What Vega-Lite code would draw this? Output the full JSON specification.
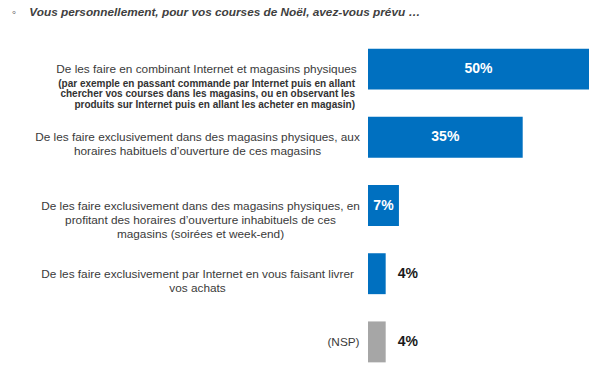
{
  "$schema": "https://vega.github.io/schema/vega-lite/v6.json",
  "width": 221,
  "height": 341,
  "autosize": {"type": "none"},
  "padding": {"left": 368, "top": 35, "right": 19, "bottom": 4},
  "background": "white",
  "config": {"view": {"stroke": null}, "font": "Liberation Sans"},
  "title": {
    "text": "◦\u00a0\u00a0\u00a0\u00a0Vous personnellement, pour vos courses de Noël, avez-vous prévu …",
    "anchor": "start",
    "frame": "group",
    "dx": -356,
    "offset": 16,
    "font": "Liberation Sans",
    "fontSize": 11.8,
    "fontWeight": "bold",
    "fontStyle": "italic",
    "color": "#404040"
  },
  "data": {
    "values": [
      {"label": "De les faire en combinant Internet et magasins physiques", "sub": "(par exemple en passant commande par Internet puis en allant|chercher vos courses dans les magasins, ou en observant les|produits sur Internet puis en allant les acheter en magasin)", "value": 50, "type": "mode"},
      {"label": "De les faire exclusivement dans des magasins physiques, aux|horaires habituels d’ouverture de ces magasins", "sub": "", "value": 35, "type": "mode"},
      {"label": "De les faire exclusivement dans des magasins physiques, en|profitant des horaires d’ouverture inhabituels de ces|magasins (soirées et week-end)", "sub": "", "value": 7, "type": "mode"},
      {"label": "De les faire exclusivement par Internet en vous faisant livrer|vos achats", "sub": "", "value": 4, "type": "mode"},
      {"label": "(NSP)", "sub": "", "value": 4, "type": "nsp"}
    ]
  },
  "encoding": {
    "y": {
      "field": "label",
      "type": "nominal",
      "sort": null,
      "scale": {"paddingInner": 0.4, "paddingOuter": 0.2},
      "axis": {
        "title": null,
        "domain": false,
        "ticks": false,
        "labelExpr": "split(datum.label, '|')",
        "labelFont": "Liberation Sans",
        "labelFontSize": 11.8,
        "labelColor": "#3a3a3a",
        "labelLimit": 400,
        "labelLineHeight": 14,
        "labelAlign": "center",
        "labelPadding": {"expr": "indexof(datum.value, 'aux|') >= 0 ? 171 : indexof(datum.value, 'en|') >= 0 ? 168 : indexof(datum.value, 'livrer|') >= 0 ? 171 : datum.value == '(NSP)' ? 25 : 162"}
      }
    }
  },
  "layer": [
    {
      "mark": {"type": "bar"},
      "encoding": {
        "x": {"field": "value", "type": "quantitative", "scale": {"domain": [0, 50]}, "axis": null},
        "color": {"field": "type", "type": "nominal", "scale": {"domain": ["mode", "nsp"], "range": ["#0070C0", "#A6A6A6"]}, "legend": null}
      }
    },
    {
      "transform": [{"filter": "datum.value > 5"}],
      "mark": {"type": "text", "align": "center", "baseline": "middle", "fontSize": 14, "fontWeight": "bold", "color": "white", "font": "Liberation Sans", "x": {"expr": "scale('x', datum.value / 2)"}, "text": {"expr": "datum.value + '%'"}},
      "encoding": {}
    },
    {
      "transform": [{"filter": "datum.value <= 5"}],
      "mark": {"type": "text", "align": "left", "baseline": "middle", "dx": 12, "fontSize": 14, "fontWeight": "bold", "color": "#1a1a1a", "font": "Liberation Sans", "text": {"expr": "datum.value + '%'"}},
      "encoding": {
        "x": {"field": "value", "type": "quantitative"}
      }
    },
    {
      "mark": {"type": "text", "align": "right", "baseline": "top", "dx": -13, "dy": 9.5, "fontSize": 10, "fontWeight": "bold", "lineHeight": 10.5, "lineBreak": "|", "color": "#333333", "font": "Liberation Sans"},
      "encoding": {
        "x": {"datum": 0},
        "text": {"field": "sub", "type": "nominal"}
      }
    }
  ]
}
